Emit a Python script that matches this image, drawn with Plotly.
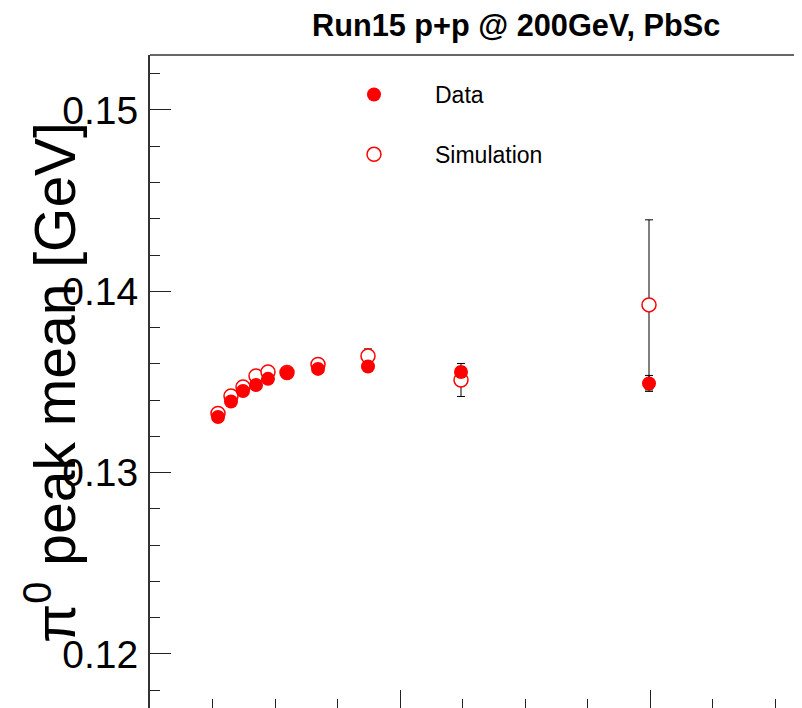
import plotly.graph_objects as go

# Data
pt = [1.36, 1.62, 1.86, 2.12, 2.36, 2.74, 3.36, 4.36, 6.22, 9.98]
data_mean = [0.13307, 0.13392, 0.13450, 0.13483, 0.13517, 0.13550, 0.13572, 0.13585, 0.13555, 0.13492]
data_err = [0.00004, 0.00004, 0.00004, 0.00004, 0.00004, 0.00004, 0.00005, 0.00014, 0.00030, 0.00044]
sim_mean = [0.13326, 0.13423, 0.13472, 0.13533, 0.13555, 0.13552, 0.13596, 0.13643, 0.13511, 0.13925]
sim_err = [0.00005, 0.00005, 0.00005, 0.00005, 0.00005, 0.00006, 0.00010, 0.00039, 0.00091, 0.00469]

title_text = "Run15 p+p @ 200GeV, PbSc"
ytitle_text = "π<sup>0</sup> peak mean [GeV]"

OFF = 8  # page body margin
W, H = 802 - OFF, 708 - OFF
ML, MT = 150 - OFF, 55 - OFF
PW, PH = W - ML, H - MT

def px_x(p):
    return (p - OFF - ML) / PW

def px_y(p):
    return (H - (p - OFF)) / PH

fig = go.Figure()

fig.add_trace(go.Scatter(
    x=pt, y=sim_mean, mode="markers", name="Simulation", legendrank=2, legendgroup="sim",
    marker=dict(symbol="circle", size=14, color="white", line=dict(color="#ff0000", width=1.5)),
    error_y=dict(type="data", array=sim_err, color="black", thickness=1, width=4),
))
fig.add_trace(go.Scatter(
    x=pt, y=data_mean, mode="markers", name="Data", legendrank=1, legendgroup="data",
    marker=dict(symbol="circle", size=14, color="#ff0000", line=dict(width=0)),
    error_y=dict(type="data", array=data_err, color="black", thickness=1, width=4),
))

legend_font = dict(family="Liberation Sans, Arial, sans-serif", size=23, color="black")

fig.update_layout(
    width=W, height=H,
    margin=dict(l=ML, r=0, t=MT, b=0, pad=0),
    paper_bgcolor="white", plot_bgcolor="white",
    font=dict(family="Liberation Sans, Arial, sans-serif", color="black"),
    xaxis=dict(range=[0, 13.04], dtick=5, tick0=0, ticks="inside", ticklen=18, tickwidth=1,
               tickcolor="#222", showticklabels=False, showline=False, showgrid=False, zeroline=False,
               minor=dict(dtick=1.25, tick0=0, ticks="inside", ticklen=9, tickwidth=1, tickcolor="#222",
                          showgrid=False)),
    yaxis=dict(range=[0.11702, 0.15303], dtick=0.01, tick0=0.12, ticks="inside", ticklen=21, tickwidth=1,
               tickcolor="#222", tickformat=".2f", showline=True, linecolor="#333", linewidth=2,
               showgrid=False, zeroline=False, ticklabelstandoff=2,
               tickfont=dict(family="Liberation Sans, Arial, sans-serif", size=39, color="black"),
               minor=dict(dtick=0.002, ticks="inside", ticklen=10, tickwidth=1, tickcolor="#222", showgrid=False)),
    legend=dict(x=px_x(313), y=px_y(73), xanchor="left", yanchor="top", itemwidth=112,
                traceorder="grouped", tracegroupgap=27,
                bgcolor="rgba(0,0,0,0)", borderwidth=0, font=legend_font),
    shapes=[dict(type="line", xref="paper", yref="paper", x0=0, x1=1, y0=1, y1=1,
                 line=dict(color="#333", width=1.5))],
    annotations=[
        dict(text="<b>" + title_text + "</b>", xref="paper", yref="paper", x=px_x(310), y=px_y(26),
             xanchor="left", yanchor="middle", showarrow=False,
             font=dict(family="Liberation Sans, Arial, sans-serif", size=30.7, color="black")),
        dict(text=ytitle_text, xref="paper", yref="paper", x=px_x(51), y=px_y(383),
             xanchor="center", yanchor="middle", textangle=-90, showarrow=False,
             font=dict(family="Liberation Sans, Arial, sans-serif", size=57, color="black")),
    ],
)

fig.write_html("out.html")
